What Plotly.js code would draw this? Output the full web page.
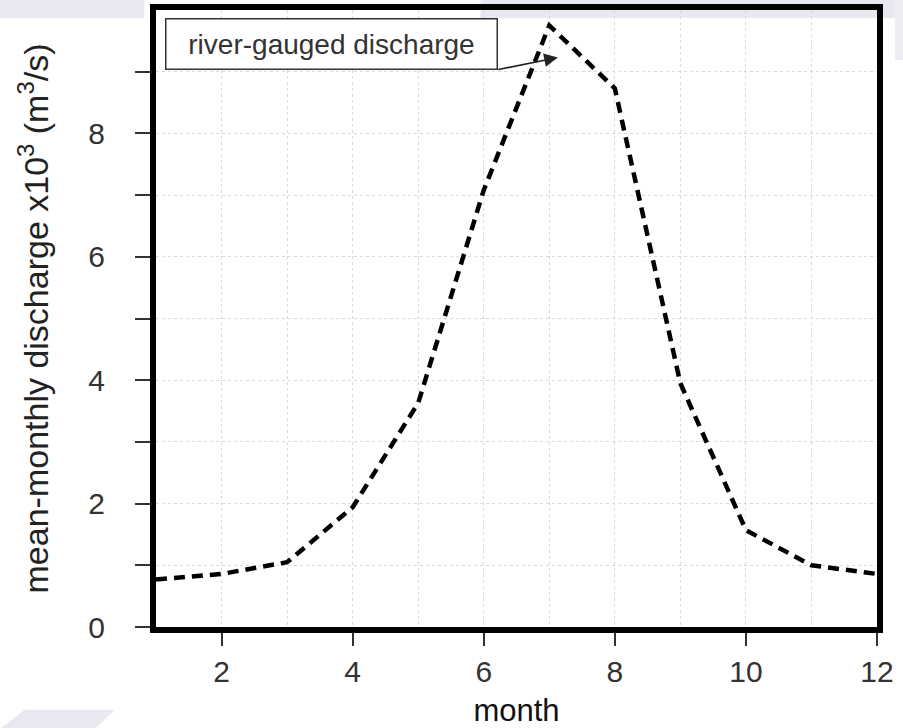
<!DOCTYPE html>
<html>
<head>
<meta charset="utf-8">
<script src="https://cdn.plot.ly/plotly-3.0.1.min.js"></script>
<style>html,body{margin:0;padding:0;background:#fff;}#chart{width:903px;height:728px;}</style>
</head>
<body>
<div id="chart"></div>
<script>
// Data
var months = [1, 2, 3, 4, 5, 6, 7, 8, 9, 10, 11, 12];
var discharge = [0.77, 0.86, 1.05, 1.94, 3.63, 7.08, 9.75, 8.73, 3.95, 1.57, 1.0, 0.86];
var xTickVals = [2, 4, 6, 8, 10, 12];
var xGridVals = [1, 3, 5, 7, 9, 11];
var yTickVals = [0, 2, 4, 6, 8];
var yTickText = ['0', '2', '4', '6', '8'];
var yMinorVals = [1, 3, 5, 7, 9];
var seriesLabel = 'river-gauged discharge';

var trace = {
  x: months,
  y: discharge,
  type: 'scatter',
  mode: 'lines',
  line: {color: '#000', width: 4.5, dash: '11px,7px'},
  hoverinfo: 'skip'
};

var gridStyle = {gridcolor: '#d9d9d9', griddash: 'dot', gridwidth: 1};

var layout = {
  width: 903, height: 728,
  margin: {l: 156, r: 26, t: 10, b: 101},
  paper_bgcolor: '#fff',
  plot_bgcolor: '#fff',
  showlegend: false,
  font: {family: 'Liberation Sans, Arial, sans-serif', color: '#333'},
  xaxis: Object.assign({
    range: [1, 12],
    tickvals: xTickVals,
    ticks: 'outside', ticklen: 13, tickwidth: 2, tickcolor: '#333',
    ticklabelstandoff: 0,
    tickfont: {size: 30, color: '#333'},
    showline: true, linecolor: '#000', linewidth: 6, mirror: true,
    zeroline: false,
    showgrid: true,
    minor: {tickmode: 'array', tickvals: xGridVals, showgrid: true, gridcolor: '#d9d9d9', griddash: 'dot', gridwidth: 1, ticks: ''},
    title: {text: 'month', font: {size: 31, color: '#111'}, standoff: 18}
  }, gridStyle),
  yaxis: Object.assign({
    range: [0, 10],
    tickvals: yTickVals,
    ticktext: yTickText,
    ticks: 'outside', ticklen: 15, tickwidth: 2, tickcolor: '#333',
    ticklabelstandoff: 24,
    tickfont: {size: 30, color: '#333'},
    showline: true, linecolor: '#000', linewidth: 6, mirror: true,
    zeroline: false,
    showgrid: true,
    minor: {tickmode: 'array', tickvals: yMinorVals, showgrid: true, gridcolor: '#d9d9d9', griddash: 'dot', gridwidth: 1,
            ticks: 'outside', ticklen: 15, tickwidth: 2, tickcolor: '#333'},
    title: {text: 'mean-monthly discharge x10<sup>3</sup> (m<sup>3</sup>/s)', font: {size: 34, color: '#222'}, standoff: 31}
  }, gridStyle),
  annotations: [
    {
      xref: 'paper', yref: 'paper',
      x: 0.2435, y: 0.9445, xanchor: 'center', yanchor: 'middle',
      text: seriesLabel, showarrow: false,
      font: {size: 28, color: '#333'},
      bgcolor: '#fff', bordercolor: '#333', borderwidth: 1.5,
      width: 328, height: 47
    },
    {
      xref: 'x', yref: 'y', axref: 'x', ayref: 'y',
      x: 7.13, y: 9.23, ax: 6.2, ay: 9.03,
      text: '', showarrow: true,
      arrowhead: 2, arrowsize: 1.7, arrowwidth: 1.6, arrowcolor: '#222'
    }
  ],
  shapes: [
    {type: 'rect', xref: 'paper', yref: 'paper', x0: -0.3, x1: -0.016, y0: 0.987, y1: 1.02, fillcolor: '#e8e9f0', line: {width: 0}, layer: 'below'},
    {type: 'rect', xref: 'paper', yref: 'paper', x0: 0.45, x1: 1.04, y0: 0.987, y1: 1.02, fillcolor: '#e8e9f0', line: {width: 0}, layer: 'below'},
    {type: 'rect', xref: 'paper', yref: 'paper', x0: 1.025, x1: 1.04, y0: 0.919, y1: 1.02, fillcolor: '#eceef3', line: {width: 0}, layer: 'below'},
    {type: 'path', xref: 'paper', yref: 'paper', path: 'M -0.182,-0.134 L -0.057,-0.134 L -0.085,-0.165 L -0.216,-0.165 Z', fillcolor: '#e8e9f0', line: {width: 0}, layer: 'below'}
  ]
};

Plotly.newPlot('chart', [trace], layout, {displayModeBar: false, staticPlot: true});
</script>
</body>
</html>
